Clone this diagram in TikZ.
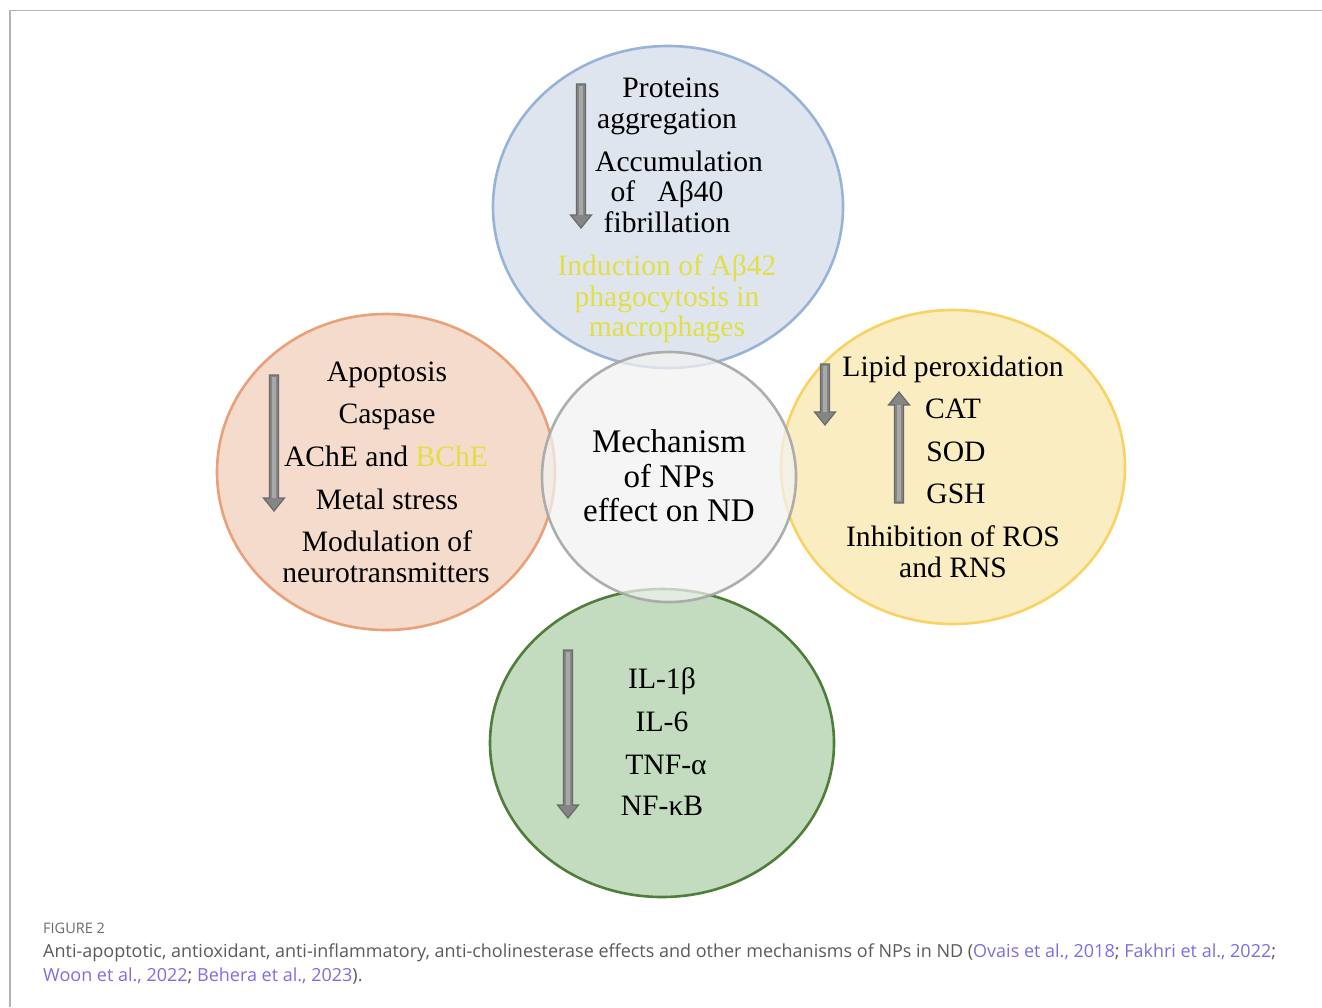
\documentclass[tikz,border=0pt]{standalone}
\usepackage{fontspec}
\setmainfont{Liberation Serif}
\newfontfamily\capfont{Open Sans}
\definecolor{blueF}{HTML}{DFE5EE}
\definecolor{blueD}{HTML}{97B4D8}
\definecolor{grayF}{HTML}{F2F2F2}
\definecolor{grayD}{HTML}{A6A6A6}
\definecolor{orangeF}{HTML}{F4DBCB}
\definecolor{orangeD}{HTML}{EAA079}
\definecolor{yellowF}{HTML}{FBEDC2}
\definecolor{yellowD}{HTML}{F8D262}
\definecolor{greenF}{HTML}{C3DBBE}
\definecolor{greenD}{HTML}{4F7E3B}
\definecolor{hiyellow}{HTML}{E1DF45}
\definecolor{capgray}{HTML}{5A5A5A}
\definecolor{linkc}{HTML}{7B6FE0}
\definecolor{frameC}{HTML}{B4B4B4}
\definecolor{arrF}{HTML}{858585}
\definecolor{arrD}{HTML}{6A6A6A}
\definecolor{arrS}{HTML}{A8A8A8}
\newcommand\blkarrow[3]{%
  \pgfmathsetmacro\adir{(#3>#2) ? 1 : -1}%
  \pgfmathsetmacro\ahb{#3-\adir*13}%
  \filldraw[fill=arrF,draw=arrD,line width=1.2pt,line join=miter]
    (#1-4.5,#2) -- (#1+4.5,#2) -- (#1+4.5,\ahb) -- (#1+10.5,\ahb) -- (#1,#3)
    -- (#1-10.5,\ahb) -- (#1-4.5,\ahb) -- cycle;
  \fill[arrS] (#1-1.6,#2+\adir*2) rectangle (#1+1.6,\ahb);
}
\begin{document}
\begin{tikzpicture}[x=1pt,y=-1pt,
  bub/.style={line width=2.6pt},
  lab/.style={font=\fontsize{29.6}{32}\selectfont,inner sep=0pt,anchor=base},
  ctr/.style={font=\fontsize{33}{36}\selectfont,inner sep=0pt,anchor=base},
  captxt/.style={font=\capfont\fontsize{18}{22}\selectfont,text=capgray,inner sep=0pt,anchor=base west}]
\useasboundingbox (0,0) rectangle (1322,1007);
\fill[white] (0,0) rectangle (1322,1007);
\draw[frameC,line width=1.5pt] (10,1007) -- (10,10.5) -- (1322,10.5);

% bubbles
\path[bub,fill=blueF,draw=blueD] (668,207) ellipse [x radius=175,y radius=161];
\path[bub,fill=orangeF,draw=orangeD] (386,472) ellipse [x radius=169,y radius=158];
\path[bub,fill=yellowF,draw=yellowD] (953,467) ellipse [x radius=172,y radius=157];
\path[bub,fill=greenF,draw=greenD] (662,743) ellipse [x radius=172,y radius=154];
\path[bub,fill=grayF,draw=grayD,fill opacity=0.72,draw opacity=0.9] (669,477) ellipse [x radius=127,y radius=125];

% arrows
\blkarrow{581}{84}{228}
\blkarrow{274}{375}{511}
\blkarrow{825}{364}{425}
\blkarrow{899}{503}{392}
\blkarrow{568}{650}{818}

% top
\node[lab] (t1) at (671,97) {Proteins};
\node[lab] (t2) at (667,128) {aggregation};
\node[lab] (t3) at (679,171) {Accumulation};
\node[lab] (t4) at (667,201) {of \ \ Aβ40};
\node[lab] (t5) at (667,232) {fibrillation};
\node[lab,text=hiyellow] (t6) at (667,275) {Induction of Aβ42};
\node[lab,text=hiyellow] (t7) at (667,306) {phagocytosis in};
\node[lab,text=hiyellow] (t8) at (667,336) {macrophages};

% center
\node[ctr] (c1) at (669,452) {Mechanism};
\node[ctr] (c2) at (669,487) {of NPs};
\node[ctr] (c3) at (669,521) {effect on ND};

% left
\node[lab] (l1) at (387,381) {Apoptosis};
\node[lab] (l2) at (387,423) {Caspase};
\node[lab] (l3) at (386,466) {AChE and \textcolor{hiyellow}{BChE}};
\node[lab] (l4) at (387,509) {Metal stress};
\node[lab] (l5) at (387,551) {Modulation of};
\node[lab] (l6) at (386,582) {neurotransmitters};

% right
\node[lab] (r1) at (953,376) {Lipid peroxidation};
\node[lab] (r2) at (953,418) {CAT};
\node[lab] (r3) at (956,461) {SOD};
\node[lab] (r4) at (956,503) {GSH};
\node[lab] (r5) at (953,546) {Inhibition of ROS};
\node[lab] (r6) at (953,577) {and RNS};

% bottom
\node[lab] (b1) at (662,688) {IL-1β};
\node[lab] (b2) at (662,731) {IL-6};
\node[lab] (b3) at (666,774) {TNF-α};
\node[lab] (b4) at (662,815) {NF-κB};

% caption
\node[captxt,font=\capfont\fontsize{14.5}{17}\selectfont,text=capgray!90] (fig) at (43,933) {FIGURE 2};
\node[captxt] (cap1) at (43,957) {Anti-apoptotic, antioxidant, anti-inflammatory, anti-cholinesterase effects and other mechanisms of NPs in ND (\textcolor{linkc}{Ovais et al., 2018}; \textcolor{linkc}{Fakhri et al., 2022};};
\node[captxt] (cap2) at (43,981) {\textcolor{linkc}{Woon et al., 2022}; \textcolor{linkc}{Behera et al., 2023}).};
\end{tikzpicture}
\end{document}
